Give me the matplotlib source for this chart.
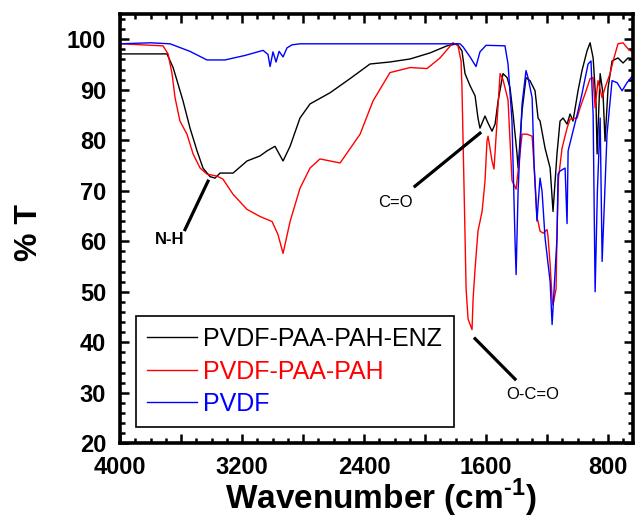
import numpy as np
import matplotlib
matplotlib.use("Agg")
import matplotlib.pyplot as plt
from matplotlib.ticker import MultipleLocator, FuncFormatter

# FTIR spectra, values (wavenumber in cm-1, %T)
wn_enz = [4000, 3692, 3652, 3626, 3587, 3541, 3495, 3456, 3410, 3377, 3344, 3259, 3167, 3082,
          3036, 2984, 2931, 2885, 2820, 2754, 2623, 2492, 2361, 2230, 2098, 1967, 1856, 1790,
          1758, 1738, 1705, 1672, 1653, 1640, 1607, 1587, 1561, 1541, 1521, 1489, 1462, 1443,
          1423, 1397, 1390, 1364, 1338, 1312, 1279, 1259, 1246, 1213, 1180, 1161, 1135, 1115,
          1095, 1069, 1049, 1030, 997, 971, 938, 918, 898, 879, 872, 852, 833, 820, 800, 774,
          735, 702, 669, 623]
t_enz = [97.1, 97.1, 94.4, 91.8, 87.8, 82.4, 77.9, 74.5, 72.8, 72.5, 73.5, 73.5, 75.9, 76.9,
         77.9, 78.8, 75.9, 78.8, 84.4, 87.2, 89.4, 92.2, 95.1, 95.5, 96.1, 97.3, 98.7, 99.1,
         97.7, 93.2, 90.8, 88.8, 84.4, 82.4, 84.8, 83.4, 81.8, 83.2, 87.8, 93.2, 92.4, 90.4,
         85.2, 77.3, 74.5, 85.8, 92.4, 91.8, 89.8, 84.4, 83.8, 78.4, 74.5, 65.9, 77.3, 83.8,
         84.4, 83.2, 85.2, 83.8, 89.8, 93.8, 97.7, 99.3, 96.3, 87.2, 77.3, 93.2, 89.2, 79.8,
         90.4, 95.7, 96.3, 95.3, 96.3, 96.1]

wn_paa = [4000, 3718, 3685, 3659, 3639, 3607, 3561, 3521, 3475, 3430, 3364, 3325, 3259, 3167,
          3082, 3003, 2964, 2931, 2885, 2820, 2754, 2689, 2557, 2426, 2341, 2230, 2098, 1987,
          1902, 1817, 1784, 1764, 1758, 1738, 1731, 1718, 1692, 1685, 1672, 1653, 1626, 1607,
          1594, 1587, 1561, 1548, 1508, 1489, 1456, 1430, 1403, 1364, 1331, 1298, 1279, 1266,
          1259, 1246, 1226, 1200, 1194, 1180, 1167, 1161, 1141, 1135, 1128, 1125, 1102, 1069,
          1049, 1003, 984, 951, 918, 898, 885, 866, 839, 820, 787, 767, 735, 702, 669, 623]
t_paa = [99.1, 98.7, 97.1, 93.2, 88.4, 83.8, 81.2, 77.3, 74.5, 73.3, 72.9, 72.3, 69.3, 66.3,
         64.9, 63.9, 61.3, 57.6, 63.9, 70.5, 74.5, 76.3, 75.5, 81.2, 87.8, 93.4, 94.4, 94.2,
         96.3, 99.3, 98.7, 95.7, 90.4, 61.3, 50.6, 44.6, 42.5, 48.6, 54.6, 62.0, 65.9, 71.9,
         79.8, 80.8, 75.9, 74.3, 93.2, 92.0, 88.0, 72.0, 70.3, 81.2, 81.2, 80.8, 72.0, 64.5,
         63.9, 62.0, 61.6, 62.3, 61.0, 55.4, 48.6, 47.4, 50.6, 61.3, 69.3, 72.5, 78.4, 82.4,
         84.2, 84.4, 86.4, 89.2, 92.2, 92.4, 86.4, 91.8, 88.4, 90.4, 93.2, 95.7, 99.1, 99.3,
         98.1, 97.1]

wn_pvdf = [4000, 3800, 3672, 3541, 3430, 3312, 3180, 3062, 3030, 3016, 2997, 2977, 2957, 2931,
           2905, 2872, 2820, 1771, 1751, 1705, 1666, 1640, 1600, 1476, 1456, 1430, 1410, 1403,
           1390, 1364, 1338, 1325, 1298, 1285, 1266, 1259, 1246, 1233, 1213, 1180, 1167, 1135,
           1128, 1115, 1082, 1069, 1062, 1030, 997, 971, 951, 931, 912, 898, 885, 870, 852,
           839, 807, 774, 741, 708, 676, 623]
t_pvdf = [99.1, 99.3, 99.1, 97.6, 95.9, 95.9, 96.8, 97.8, 97.0, 94.6, 97.5, 95.5, 97.6, 96.5,
          98.3, 98.9, 99.1, 99.1, 98.5, 96.5, 94.6, 97.5, 98.8, 98.7, 95.1, 83.8, 60.0, 53.4,
          70.0, 87.2, 93.8, 92.4, 88.4, 75.0, 64.0, 67.3, 72.5, 69.9, 60.6, 52.0, 43.5, 60.6,
          73.3, 73.9, 74.5, 63.5, 77.9, 81.8, 85.8, 89.2, 92.2, 95.1, 95.7, 85.0, 50.0, 70.0,
          84.4, 56.0, 81.2, 91.8, 91.4, 89.8, 91.4, 93.4]

labels = ["PVDF-PAA-PAH-ENZ", "PVDF-PAA-PAH", "PVDF"]
colors = ["black", "red", "blue"]

plt.rcParams["font.family"] = "Liberation Sans"
plt.rcParams["mathtext.fontset"] = "custom"
plt.rcParams["mathtext.rm"] = "Liberation Sans:bold"
plt.rcParams["mathtext.bf"] = "Liberation Sans:bold"

fig = plt.figure(figsize=(6.35, 5.19), dpi=100)
ax = fig.add_axes([0.189, 0.146, 0.808, 0.827])

series = [(wn_enz, t_enz), (wn_paa, t_paa), (wn_pvdf, t_pvdf)]
for (wn, t), lab, c in zip(series, labels, colors):
    ax.plot(wn, t, color=c, lw=1.0, label=lab)

ax.set_xlim(4000, 636)
ax.set_ylim(20, 105)

# ticks: inward on all four sides, labels every 800 cm-1
ax.xaxis.set_major_locator(MultipleLocator(400))
ax.xaxis.set_minor_locator(MultipleLocator(100))
ax.xaxis.set_major_formatter(FuncFormatter(lambda v, p: "%d" % v if v % 800 == 0 else ""))
ax.yaxis.set_major_locator(MultipleLocator(10))
ax.yaxis.set_minor_locator(MultipleLocator(2))
ax.tick_params(which="both", direction="in", top=True, right=True, width=1.8)
ax.tick_params(which="major", length=6.5, labelsize=17)
ax.tick_params(which="minor", length=3.5)
ax.tick_params(axis="x", which="major", pad=9)
ax.tick_params(axis="y", which="major", pad=10)
for lbl in ax.get_xticklabels() + ax.get_yticklabels():
    lbl.set_fontweight("bold")
for sp in ax.spines.values():
    sp.set_linewidth(2.6)

ax.set_xlabel(r"Wavenumber (cm$^{\text{-1}}$)", fontsize=24, fontweight="bold")
ax.xaxis.set_label_coords(0.509, -0.079)
ax.set_ylabel("% T", fontsize=23, fontweight="bold")
ax.yaxis.set_label_coords(-0.148, 0.49)

# band assignments
ax.plot([3574, 3423], [62.3, 71.9], color="black", lw=2.3)
ax.text(3672, 60.4, "N-H", fontsize=12, fontweight="bold", ha="center", va="center")
ax.plot([2066, 1640], [70.9, 81.4], color="black", lw=2.3)
ax.text(2197, 67.7, "C=O", fontsize=12, ha="center", va="center")
ax.plot([1672, 1410], [40.7, 32.7], color="black", lw=2.3)
ax.text(1292, 29.7, "O-C=O", fontsize=12, ha="center", va="center")

leg = ax.legend(loc="lower left", bbox_to_anchor=(0.031, 0.037), borderaxespad=0,
                fontsize=18, handlelength=2.0, handletextpad=0.25, labelspacing=0.34,
                borderpad=0.45, fancybox=False, framealpha=1)
leg.get_frame().set_edgecolor("black")
leg.get_frame().set_linewidth(1.2)
for txt, c in zip(leg.get_texts(), colors):
    txt.set_color(c)

fig.savefig("out.png", dpi=100)
